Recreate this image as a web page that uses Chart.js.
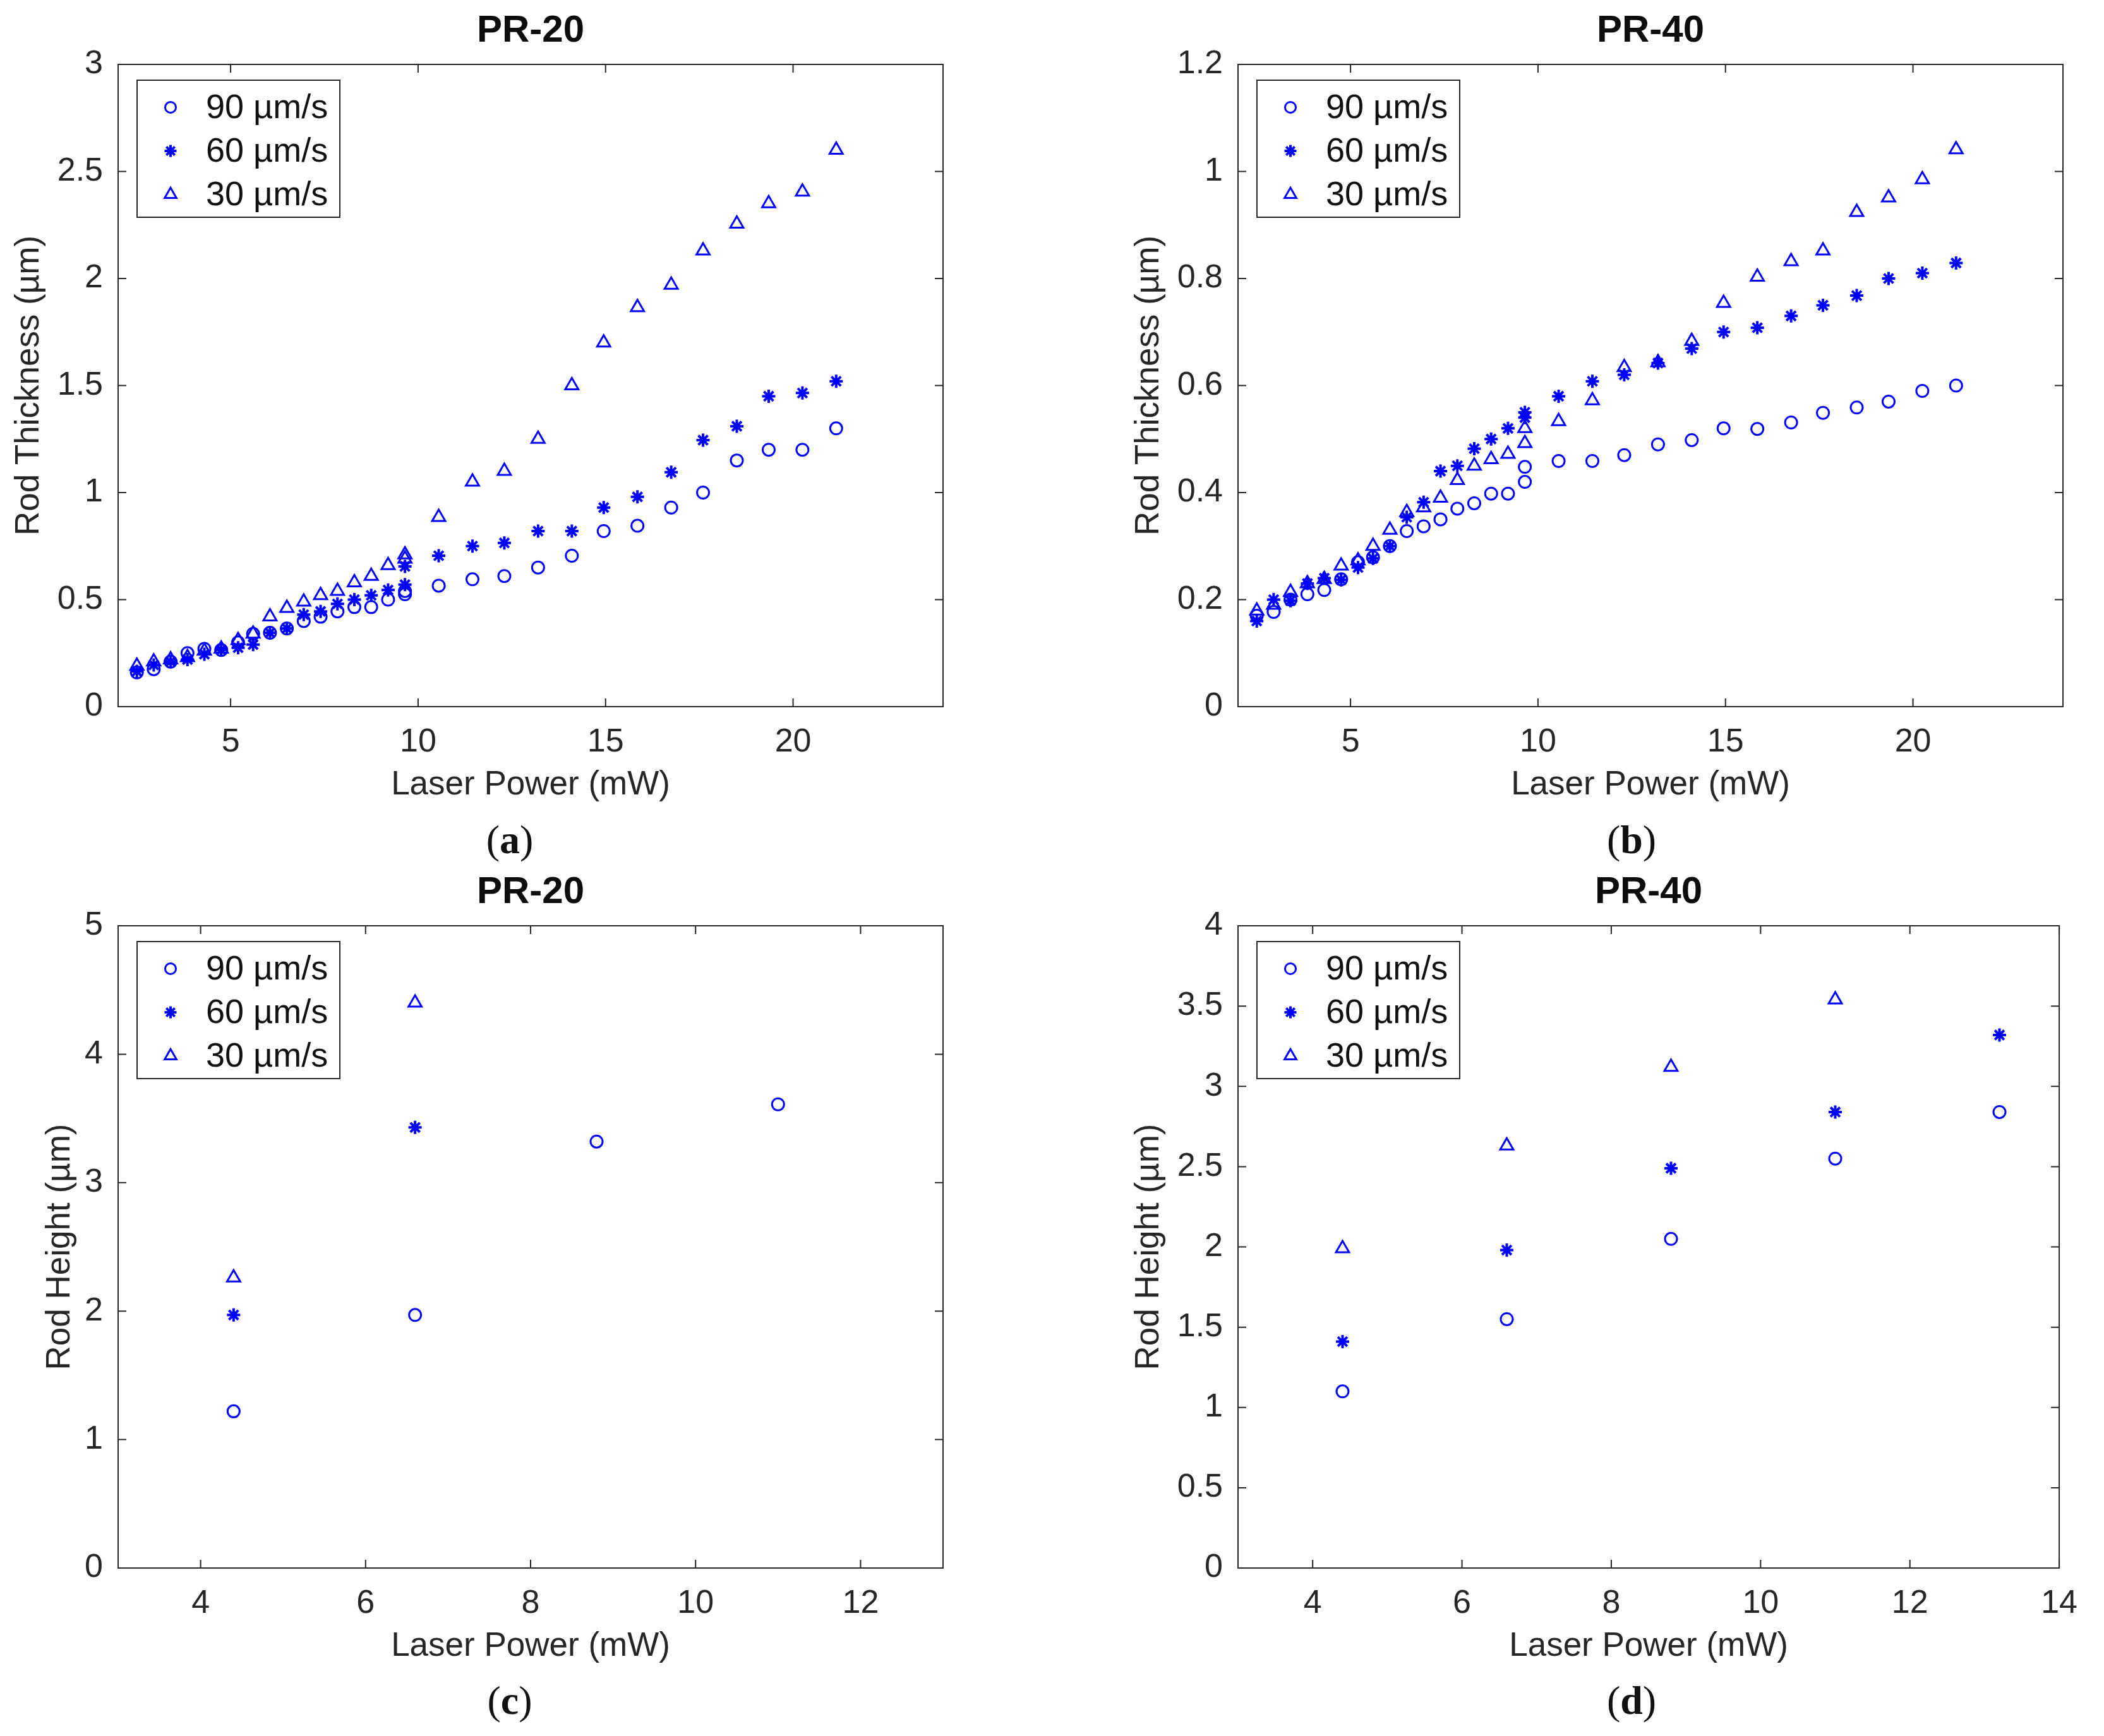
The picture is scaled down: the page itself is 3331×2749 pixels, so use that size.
<!DOCTYPE html>
<html>
<head>
<meta charset="utf-8">
<script src="https://cdn.jsdelivr.net/npm/chart.js@4.4.1/dist/chart.umd.min.js"></script>
<style>
  html, body { margin: 0; padding: 0; background: #fff; }
  body { width: 3331px; height: 2749px; position: relative; overflow: hidden; }
  .panel { position: absolute; }
  .cap { position: absolute; transform: translate(-50%, -50%); font-family: 'Liberation Serif', 'Times New Roman', serif; font-size: 64px; color: #111; white-space: nowrap; }
</style>
</head>
<body>
<div class="panel" style="left:0px;top:0px;width:1541px;height:1294px"><canvas id="chartA"></canvas></div>
<div class="panel" style="left:1773px;top:0px;width:1541px;height:1294px"><canvas id="chartB"></canvas></div>
<div class="panel" style="left:0px;top:1364px;width:1541px;height:1294px"><canvas id="chartC"></canvas></div>
<div class="panel" style="left:1773px;top:1364px;width:1541px;height:1294px"><canvas id="chartD"></canvas></div>
<div class="cap" style="left:807px;top:1330px">(<b>a</b>)</div>
<div class="cap" style="left:2583px;top:1330px">(<b>b</b>)</div>
<div class="cap" style="left:807px;top:2693px">(<b>c</b>)</div>
<div class="cap" style="left:2583px;top:2693px">(<b>d</b>)</div>
<script>
// series labels
var speedLabels = ['90 \u00b5m/s', '60 \u00b5m/s', '30 \u00b5m/s'];

// laser power values for the thickness plots (a, b)
var powerThick = [2.5, 2.95, 3.4, 3.85, 4.3, 4.75, 5.2, 5.6, 6.05, 6.5, 6.95, 7.4, 7.85, 8.3, 8.75, 9.2, 9.65, 9.65,
                  10.55, 11.45, 12.3, 13.2, 14.1, 14.95, 15.85, 16.75, 17.6, 18.5, 19.35, 20.25, 21.15];

// (a) PR-20 rod thickness
var thickA90 = [0.16, 0.175, 0.21, 0.25, 0.27, 0.265, 0.30, 0.34, 0.345, 0.365, 0.40, 0.42, 0.445, 0.465, 0.465, 0.50, 0.525, 0.54,
                0.565, 0.595, 0.61, 0.65, 0.705, 0.82, 0.845, 0.93, 1.0, 1.15, 1.20, 1.20, 1.30];
var thickA60 = [0.165, 0.195, 0.21, 0.22, 0.245, 0.265, 0.275, 0.29, 0.345, 0.365, 0.43, 0.445, 0.48, 0.50, 0.52, 0.545, 0.57, 0.655,
                0.705, 0.75, 0.765, 0.82, 0.82, 0.93, 0.98, 1.095, 1.245, 1.31, 1.45, 1.465, 1.52];
var thickA30 = [0.19, 0.21, 0.22, 0.23, 0.26, 0.27, 0.31, 0.34, 0.42, 0.46, 0.49, 0.52, 0.54, 0.58, 0.61, 0.66, 0.69, 0.71,
                0.885, 1.05, 1.10, 1.25, 1.50, 1.70, 1.865, 1.97, 2.13, 2.255, 2.35, 2.405, 2.60];

// (b) PR-40 rod thickness
var thickB90 = [0.17, 0.177, 0.20, 0.21, 0.218, 0.238, 0.27, 0.279, 0.30, 0.328, 0.337, 0.35, 0.37, 0.38, 0.398, 0.398, 0.42, 0.448,
                0.459, 0.459, 0.47, 0.49, 0.498, 0.52, 0.519, 0.531, 0.549, 0.559, 0.57, 0.59, 0.60];
var thickB60 = [0.16, 0.20, 0.198, 0.23, 0.24, 0.237, 0.26, 0.277, 0.30, 0.354, 0.382, 0.44, 0.45, 0.482, 0.50, 0.52, 0.54, 0.55,
                0.58, 0.608, 0.62, 0.642, 0.669, 0.70, 0.708, 0.73, 0.75, 0.768, 0.80, 0.81, 0.829];
var thickB30 = [0.179, 0.19, 0.214, 0.23, 0.238, 0.263, 0.273, 0.30, 0.33, 0.363, 0.372, 0.39, 0.423, 0.45, 0.462, 0.472, 0.492, 0.52,
                0.533, 0.572, 0.634, 0.643, 0.683, 0.754, 0.803, 0.832, 0.852, 0.924, 0.951, 0.985, 1.041];

// (c) PR-20 rod height
var powerHeightC = [4.4, 6.6, 8.8, 11];
var heightC90 = [1.22, 1.97, 3.32, 3.61];
var heightC60 = [1.97, 3.43];
var heightC30 = [2.26, 4.40];

// (d) PR-40 rod height
var powerHeightD = [4.4, 6.6, 8.8, 11, 13.2];
var heightD90 = [1.10, 1.55, 2.05, 2.55, 2.84];
var heightD60 = [1.41, 1.98, 2.49, 2.84, 3.32];
var heightD30 = [1.99, 2.63, 3.12, 3.54];

// tick values
var thickXTicks = [5, 10, 15, 20];
var thickAYTicks = [0, 0.5, 1, 1.5, 2, 2.5, 3];
var thickBYTicks = [0, 0.2, 0.4, 0.6, 0.8, 1, 1.2];
var heightCXTicks = [4, 6, 8, 10, 12];
var heightCYTicks = [0, 1, 2, 3, 4, 5];
var heightDXTicks = [4, 6, 8, 10, 12, 14];
var heightDYTicks = [0, 0.5, 1, 1.5, 2, 2.5, 3, 3.5, 4];

var FONT = "'Liberation Sans', Arial, Helvetica, sans-serif";
var AXIS = '#262626';
var BLUE = '#0000ff';

function pts(xs, ys) {
    return ys.map(function (y, i) { return { x: xs[i], y: y }; });
}

function series(xs, y90, y60, y30) {
    var styles = ['circle', 'star', 'triangle'];
    var radii = [9.5, 10.5, 12];
    var widths = [3, 4, 3];
    return [y90, y60, y30].map(function (ys, i) {
        return {
            label: speedLabels[i],
            data: pts(xs, ys),
            pointStyle: styles[i],
            pointRadius: radii[i],
            pointBorderWidth: widths[i],
            borderColor: BLUE,
            backgroundColor: 'rgba(0,0,0,0)'
        };
    });
}

// MATLAB-like box with inward ticks on all sides
var boxPlugin = {
    id: 'matlabBox',
    beforeDatasetsDraw: function (chart) {
        var ctx = chart.ctx, a = chart.chartArea, sx = chart.scales.x, sy = chart.scales.y;
        var tl = 13;
        ctx.save();
        ctx.strokeStyle = AXIS;
        ctx.lineWidth = 2;
        ctx.beginPath();
        sx.ticks.forEach(function (t) {
            var px = sx.getPixelForValue(t.value);
            ctx.moveTo(px, a.bottom); ctx.lineTo(px, a.bottom - tl);
            ctx.moveTo(px, a.top); ctx.lineTo(px, a.top + tl);
        });
        sy.ticks.forEach(function (t) {
            var py = sy.getPixelForValue(t.value);
            ctx.moveTo(a.left, py); ctx.lineTo(a.left + tl, py);
            ctx.moveTo(a.right, py); ctx.lineTo(a.right - tl, py);
        });
        ctx.stroke();
        ctx.strokeRect(a.left, a.top, a.right - a.left, a.bottom - a.top);
        ctx.restore();
    }
};

// boxed legend in the upper left corner of the axes
var legendPlugin = {
    id: 'boxLegend',
    afterDatasetsDraw: function (chart) {
        var ctx = chart.ctx, a = chart.chartArea;
        var bx = a.left + 30, by = a.top + 25, bw = 321, bh = 217;
        ctx.save();
        ctx.fillStyle = '#fff';
        ctx.fillRect(bx, by, bw, bh);
        ctx.strokeStyle = AXIS;
        ctx.lineWidth = 2;
        ctx.strokeRect(bx, by, bw, bh);
        chart.data.datasets.forEach(function (ds, i) {
            var cy = a.top + 68 + i * 69;
            ctx.strokeStyle = BLUE;
            ctx.fillStyle = 'rgba(0,0,0,0)';
            ctx.lineWidth = ds.pointBorderWidth;
            Chart.helpers.drawPoint(ctx, {
                pointStyle: ds.pointStyle,
                radius: ds.pointRadius * 0.9,
                borderWidth: ds.pointBorderWidth,
                rotation: 0
            }, a.left + 83, cy);
            ctx.fillStyle = '#111';
            ctx.font = '54px ' + FONT;
            ctx.textAlign = 'left';
            ctx.textBaseline = 'middle';
            ctx.fillText(ds.label, a.left + 139, cy + 2);
        });
        ctx.restore();
    }
};

function fmt(v) { return String(Math.round(v * 100) / 100); }

function makeChart(id, title, yTitle, yTitlePad, datasets, xr, yr, xTicks, yTicks) {
    var ctx = document.getElementById(id).getContext('2d');
    return new Chart(ctx, {
        type: 'scatter',
        data: { datasets: datasets },
        plugins: [boxPlugin, legendPlugin],
        options: {
            responsive: true,
            maintainAspectRatio: false,
            animation: false,
            events: [],
            layout: { padding: { top: 0, left: 0, right: 48, bottom: 0 } },
            plugins: {
                legend: { display: false },
                tooltip: { enabled: false },
                title: { display: false }
            },
            scales: {
                // top axis only carries the panel title, centred over the plot box
                x2: {
                    type: 'linear',
                    position: 'top',
                    display: true,
                    min: xr[0], max: xr[1],
                    grid: { display: false, drawTicks: false },
                    border: { display: false },
                    ticks: { display: false },
                    afterFit: function (s) { s.height = 102; },
                    title: {
                        display: true, text: title, color: '#0d0d0d',
                        font: { family: FONT, size: 60, weight: 'bold' }, padding: { top: 13, bottom: 0 }
                    }
                },
                x: {
                    type: 'linear',
                    position: 'bottom',
                    min: xr[0], max: xr[1],
                    grid: { display: false, drawTicks: false },
                    border: { display: false },
                    afterBuildTicks: function (s) { s.ticks = xTicks.map(function (v) { return { value: v }; }); },
                    afterFit: function (s) { s.height = 175; },
                    ticks: { color: AXIS, padding: 25, font: { family: FONT, size: 52 }, callback: fmt, maxRotation: 0 },
                    title: {
                        display: true, text: 'Laser Power (mW)', color: AXIS,
                        font: { family: FONT, size: 53 }, padding: { top: 0, bottom: 19 }
                    }
                },
                y: {
                    type: 'linear',
                    min: yr[0], max: yr[1],
                    grid: { display: false, drawTicks: false },
                    border: { display: false },
                    afterBuildTicks: function (s) { s.ticks = yTicks.map(function (v) { return { value: v }; }); },
                    afterFit: function (s) { s.width = 187; },
                    ticks: { color: AXIS, padding: 24, font: { family: FONT, size: 52 }, callback: fmt },
                    title: {
                        display: true, text: yTitle, color: AXIS,
                        font: { family: FONT, size: 53 }, padding: { top: yTitlePad, bottom: 0 }
                    }
                }
            }
        }
    });
}

makeChart('chartA', 'PR-20', 'Rod Thickness (\u00b5m)', 15,
    series(powerThick, thickA90, thickA60, thickA30), [2, 24], [0, 3], thickXTicks, thickAYTicks);
makeChart('chartB', 'PR-40', 'Rod Thickness (\u00b5m)', 15,
    series(powerThick, thickB90, thickB60, thickB30), [2, 24], [0, 1.2], thickXTicks, thickBYTicks);
makeChart('chartC', 'PR-20', 'Rod Height (\u00b5m)', 64,
    series(powerHeightC, heightC90, heightC60, heightC30), [3, 13], [0, 5], heightCXTicks, heightCYTicks);
makeChart('chartD', 'PR-40', 'Rod Height (\u00b5m)', 15,
    series(powerHeightD, heightD90, heightD60, heightD30), [3, 14], [0, 4], heightDXTicks, heightDYTicks);
</script>
</body>
</html>
